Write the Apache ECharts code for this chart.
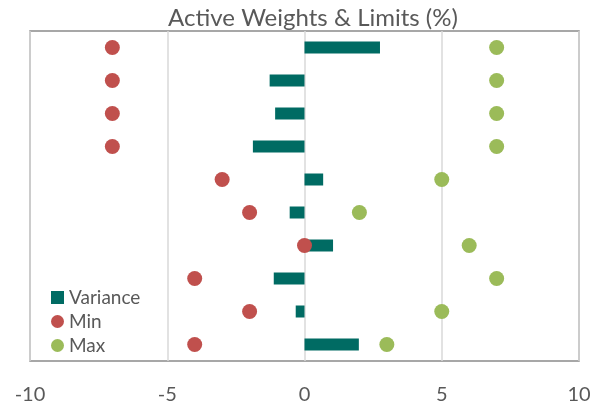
<!DOCTYPE html>
<html>
<head>
<meta charset="utf-8">
<script src="https://cdn.jsdelivr.net/npm/echarts@6/dist/echarts.min.js"></script>
<style>
  html, body { margin: 0; padding: 0; background: #fff; }
  #chart { width: 594px; height: 407px; }
</style>
</head>
<body>
<div id="chart"></div>
<script>
// rows, top to bottom
const categories = ['1', '2', '3', '4', '5', '6', '7', '8', '9', '10']
const variance = [2.75, -1.27, -1.07, -1.88, 0.68, -0.54, 1.04, -1.12, -0.32, 1.98]
const minLimit = [-7, -7, -7, -7, -3, -2, 0, -4, -2, -4]
const maxLimit = [7, 7, 7, 7, 5, 2, 6, 7, 5, 3]
const xTicks = [-10, -5, 0, 5, 10]

const textColor = '#595959'
const font = 'Lato, "Open Sans", sans-serif'

let chart = echarts.init(document.getElementById('chart'))
chart.setOption({
  animation: false,
  textStyle: { fontFamily: font },
  title: {
    text: 'Active Weights & Limits (%)',
    left: 308,
    top: 1,
    textAlign: 'center',
    textStyle: { color: textColor, fontSize: 24, fontWeight: 'normal', fontFamily: font },
  },
  grid: {
    left: 30,
    right: 15,
    top: 31,
    bottom: 46,
    show: true,
    borderColor: '#8a8a8a',
    borderWidth: 1.5,
  },
  legend: {
    orient: 'vertical',
    left: 46,
    top: 283,
    itemWidth: 13,
    itemHeight: 13,
    itemGap: 5,
    textStyle: { color: textColor, fontSize: 19, fontFamily: font },
    data: [
      { name: 'Variance', icon: 'rect' },
      { name: 'Min', icon: 'circle' },
      { name: 'Max', icon: 'circle' },
    ],
  },
  xAxis: {
    type: 'value',
    min: xTicks[0],
    max: xTicks[xTicks.length - 1],
    interval: 5,
    axisLine: { show: false },
    axisTick: { show: false },
    axisLabel: { color: textColor, fontSize: 20, margin: 24, fontFamily: font },
    splitLine: { lineStyle: { color: '#d9d9d9', width: 1.5 } },
  },
  yAxis: {
    type: 'category',
    data: categories,
    inverse: true,
    axisLine: { show: false },
    axisTick: { show: false },
    axisLabel: { show: false },
    splitLine: { show: false },
  },
  series: [
    {
      name: 'Variance',
      type: 'bar',
      data: variance,
      barWidth: 12,
      itemStyle: { color: '#006b63' },
    },
    {
      name: 'Min',
      type: 'scatter',
      data: minLimit,
      symbolSize: 15,
      itemStyle: { color: '#c0504d', opacity: 1 },
      z: 3,
    },
    {
      name: 'Max',
      type: 'scatter',
      data: maxLimit,
      symbolSize: 15,
      itemStyle: { color: '#9bbb59', opacity: 1 },
      z: 3,
    },
  ],
})
</script>
</body>
</html>
